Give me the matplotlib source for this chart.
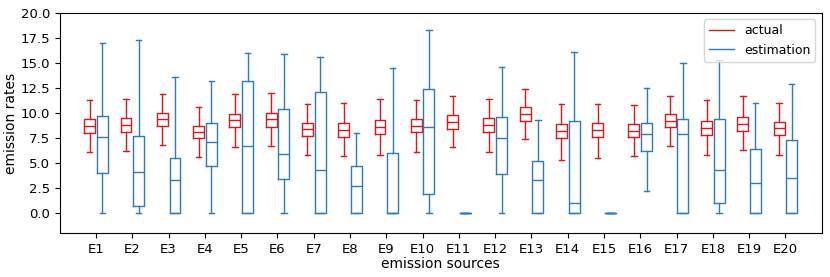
import numpy as np
import matplotlib.pyplot as plt

# emission sources
sources = ['E%d' % i for i in range(1, 21)]

# actual emission rates, box statistics
act_lo  = [6.07, 6.2, 6.77, 5.57, 6.6, 6.73, 5.77, 5.73, 5.77, 6.1,
           6.6, 6.13, 7.37, 5.3, 5.53, 5.7, 6.67, 5.77, 6.27, 5.8]
act_q1  = [8.03, 8.1, 8.67, 7.47, 8.63, 8.63, 7.7, 7.6, 7.87, 8.07,
           8.43, 8.1, 9.23, 7.47, 7.63, 7.6, 8.57, 7.77, 8.17, 7.77]
act_med = [8.73, 8.8, 9.37, 8.1, 9.33, 9.43, 8.4, 8.27, 8.63, 8.73,
           9.1, 8.77, 9.9, 8.23, 8.33, 8.23, 9.23, 8.47, 8.9, 8.47]
act_q3  = [9.4, 9.47, 9.97, 8.73, 9.93, 10.03, 9.03, 8.97, 9.33, 9.4,
           9.77, 9.53, 10.57, 8.87, 9.03, 8.93, 9.87, 9.17, 9.63, 9.1]
act_hi  = [11.3, 11.4, 11.87, 10.63, 11.93, 12.03, 10.93, 11.0, 11.37, 11.33,
           11.73, 11.43, 12.4, 10.93, 10.93, 10.83, 11.73, 11.27, 11.7, 11.03]

# estimated emission rates
est_lo  = [0, 0, 0, 0, 0, 0, 0, 0, 0, 0,
           0, 0, 0, 0, 0, 2.17, 0, 0, 0, 0]
est_q1  = [4.03, 0.77, 0, 4.7, 0, 3.37, 0, 0, 0, 1.9,
           0, 3.87, 0, 0, 0, 6.17, 0, 1.07, 0, 0]
est_med = [7.63, 4.07, 3.27, 7.07, 6.67, 5.87, 4.27, 2.67, 0, 8.57,
           0, 7.5, 3.33, 1.03, 0, 7.9, 7.9, 4.3, 3.0, 3.53]
est_q3  = [9.73, 7.67, 5.47, 9.03, 13.17, 10.43, 12.13, 4.73, 5.97, 12.43,
           0, 9.57, 5.2, 9.23, 0, 8.97, 9.4, 9.4, 6.37, 7.33]
est_hi  = [16.97, 17.33, 13.63, 13.2, 16.03, 15.87, 15.57, 7.97, 14.47, 18.33,
           0, 14.6, 9.33, 16.07, 0, 12.53, 15.03, 15.27, 10.97, 12.9]


def make_stats(lo, q1, med, q3, hi):
    return [dict(whislo=a, q1=b, med=c, q3=d, whishi=e, fliers=[])
            for a, b, c, d, e in zip(lo, q1, med, q3, hi)]


def set_box_color(bp, color):
    for key in ['boxes', 'whiskers', 'caps', 'medians']:
        plt.setp(bp[key], color=color, linewidth=1.0)


fig, ax = plt.subplots(figsize=(8.3, 2.77), dpi=100)
fig.subplots_adjust(left=0.072, right=0.99, top=0.953, bottom=0.158)

pos = np.arange(len(sources)) * 2.0
bpl = ax.bxp(make_stats(act_lo, act_q1, act_med, act_q3, act_hi),
             positions=pos - 0.35, widths=0.6, showfliers=False)
bpr = ax.bxp(make_stats(est_lo, est_q1, est_med, est_q3, est_hi),
             positions=pos + 0.35, widths=0.6, showfliers=False)
set_box_color(bpl, '#D7191C')
set_box_color(bpr, '#2C7BB6')

# legend entries
ax.plot([], c='#D7191C', label='actual', linewidth=1.0)
ax.plot([], c='#2C7BB6', label='estimation', linewidth=1.0)
ax.legend(loc='upper right', fontsize=9)

ax.set_xticks(pos)
ax.set_xticklabels(sources, fontsize=9.5)
ax.set_yticks(np.arange(0, 20.1, 2.5))
ax.set_yticklabels(['%.1f' % v for v in np.arange(0, 20.1, 2.5)], fontsize=9.5)
ax.set_xlim(-2, len(sources) * 2)
ax.set_ylim(-2, 20)
ax.set_xlabel('emission sources', fontsize=10, labelpad=1)
ax.set_ylabel('emission rates', fontsize=10, labelpad=2)

fig.savefig('out.png', dpi=100)
